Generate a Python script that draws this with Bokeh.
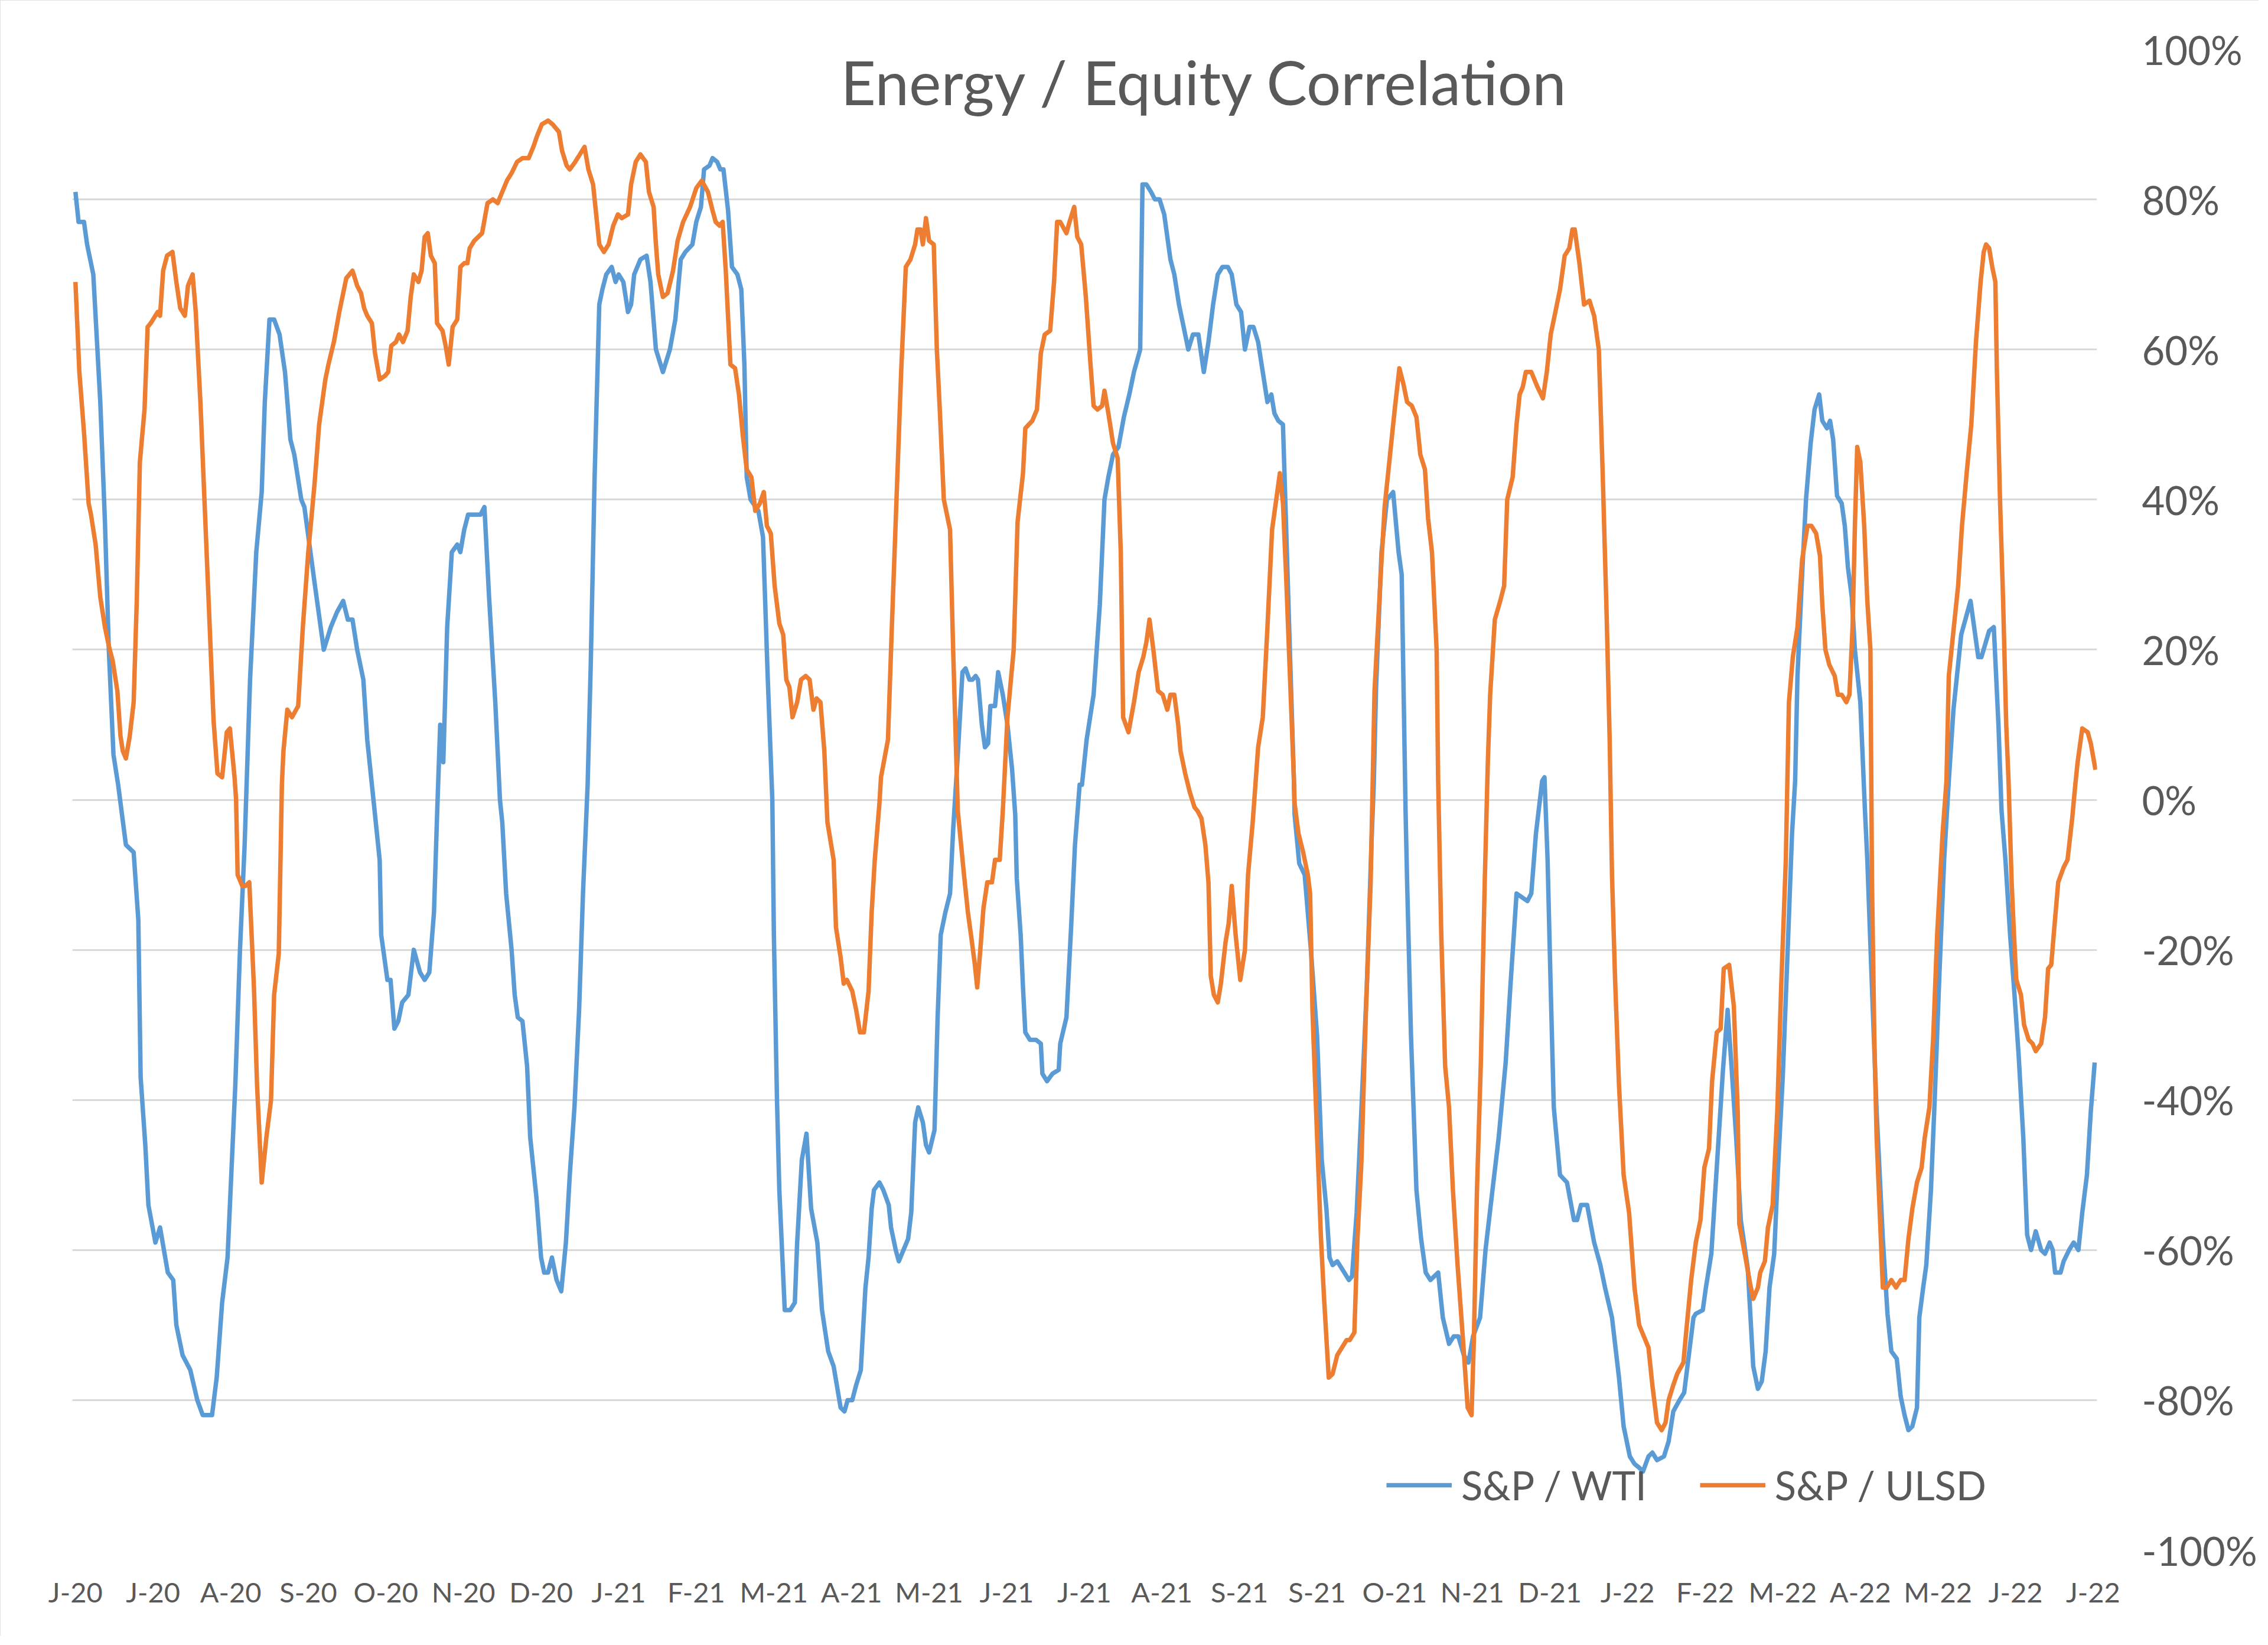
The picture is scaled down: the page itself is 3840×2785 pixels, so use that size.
from bokeh.plotting import figure
from bokeh.models import Range1d, FixedTicker, PrintfTickFormatter, Legend, LegendItem, Label
from bokeh.embed import file_html
from bokeh.resources import INLINE

title_text = "Energy / Equity Correlation"

x_tick_labels = ["J-20", "J-20", "A-20", "S-20", "O-20", "N-20", "D-20", "J-21", "F-21",
                 "M-21", "A-21", "M-21", "J-21", "J-21", "A-21", "S-21", "S-21", "O-21",
                 "N-21", "D-21", "J-22", "F-22", "M-22", "A-22", "M-22", "J-22", "J-22"]

y_ticks = [-100, -80, -60, -40, -20, 0, 20, 40, 60, 80, 100]

# position along the category axis (in label intervals) and correlation in %
wti_x = [0.00, 0.04, 0.11, 0.15, 0.23, 0.32, 0.38, 0.43, 0.49, 0.55, 0.65, 0.75, 0.81, 0.84, 0.90,
         0.94, 1.03, 1.09, 1.19, 1.26, 1.30, 1.38, 1.48, 1.57, 1.64, 1.76, 1.82, 1.89, 1.96, 2.06,
         2.12, 2.18, 2.25, 2.33, 2.40, 2.44, 2.50, 2.56, 2.63, 2.70, 2.77, 2.82, 2.88, 2.91, 2.95,
         3.08, 3.20, 3.29, 3.37, 3.45, 3.51, 3.57, 3.63, 3.71, 3.76, 3.84, 3.92, 3.94, 4.02, 4.06,
         4.11, 4.16, 4.21, 4.29, 4.36, 4.44, 4.50, 4.56, 4.62, 4.66, 4.70, 4.74, 4.79, 4.85, 4.92,
         4.96, 5.01, 5.06, 5.18, 5.22, 5.27, 5.33, 5.41, 5.47, 5.50, 5.55, 5.62, 5.66, 5.70, 5.76,
         5.82, 5.86, 5.94, 6.00, 6.04, 6.09, 6.14, 6.20, 6.26, 6.32, 6.37, 6.43, 6.49, 6.54, 6.60,
         6.64, 6.69, 6.75, 6.79, 6.84, 6.91, 6.96, 7.00, 7.06, 7.12, 7.16, 7.20, 7.28, 7.36, 7.41,
         7.48, 7.57, 7.66, 7.73, 7.80, 7.86, 7.95, 8.00, 8.06, 8.10, 8.17, 8.21, 8.27, 8.31, 8.35,
         8.41, 8.46, 8.53, 8.58, 8.62, 8.65, 8.70, 8.80, 8.86, 8.92, 8.98, 9.00, 9.04, 9.07, 9.14,
         9.21, 9.27, 9.30, 9.36, 9.42, 9.48, 9.56, 9.62, 9.70, 9.77, 9.86, 9.91, 9.95, 10.01, 10.06,
         10.12, 10.18, 10.22, 10.26, 10.29, 10.36, 10.41, 10.48, 10.51, 10.57, 10.61, 10.67, 10.73, 10.77, 10.82,
         10.86, 10.92, 10.96, 11.00, 11.07, 11.11, 11.15, 11.21, 11.27, 11.31, 11.37, 11.43, 11.47, 11.52, 11.56,
         11.60, 11.63, 11.68, 11.72, 11.76, 11.79, 11.85, 11.89, 11.95, 12.01, 12.07, 12.11, 12.13, 12.18, 12.21,
         12.24, 12.30, 12.38, 12.44, 12.46, 12.52, 12.59, 12.67, 12.69, 12.77, 12.83, 12.88, 12.94, 12.97, 13.03,
         13.12, 13.20, 13.26, 13.31, 13.37, 13.44, 13.51, 13.58, 13.64, 13.72, 13.75, 13.80, 13.86, 13.91, 13.97,
         14.03, 14.11, 14.16, 14.22, 14.28, 14.34, 14.40, 14.47, 14.54, 14.60, 14.66, 14.72, 14.78, 14.85, 14.90,
         14.96, 15.02, 15.07, 15.13, 15.18, 15.24, 15.30, 15.36, 15.41, 15.45, 15.50, 15.56, 15.59, 15.64, 15.70,
         15.71, 15.77, 15.84, 15.92, 16.00, 16.06, 16.12, 16.16, 16.20, 16.26, 16.32, 16.41, 16.45, 16.51, 16.57,
         16.64, 16.70, 16.73, 16.76, 16.83, 16.90, 16.98, 17.05, 17.09, 17.14, 17.16, 17.21, 17.28, 17.34, 17.40,
         17.46, 17.51, 17.56, 17.62, 17.70, 17.76, 17.82, 17.89, 17.95, 18.01, 18.10, 18.17, 18.26, 18.34, 18.43,
         18.49, 18.57, 18.64, 18.71, 18.76, 18.82, 18.90, 18.93, 18.97, 19.01, 19.05, 19.13, 19.22, 19.31, 19.35,
         19.40, 19.48, 19.57, 19.65, 19.71, 19.80, 19.89, 19.95, 20.03, 20.09, 20.15, 20.20, 20.27, 20.32, 20.38,
         20.47, 20.53, 20.59, 20.67, 20.73, 20.79, 20.85, 20.88, 20.97, 21.01, 21.08, 21.15, 21.23, 21.29, 21.34,
         21.40, 21.46, 21.55, 21.62, 21.68, 21.73, 21.78, 21.83, 21.89, 21.94, 22.00, 22.06, 22.12, 22.16, 22.19,
         22.25, 22.30, 22.36, 22.41, 22.47, 22.51, 22.57, 22.61, 22.65, 22.70, 22.76, 22.80, 22.84, 22.89, 22.93,
         23.00, 23.06, 23.09, 23.15, 23.21, 23.29, 23.35, 23.40, 23.47, 23.52, 23.57, 23.62, 23.67, 23.73, 23.76,
         23.81, 23.85, 23.91, 23.96, 24.02, 24.08, 24.14, 24.20, 24.30, 24.42, 24.52, 24.56, 24.66, 24.72, 24.78,
         24.82, 24.87, 24.93, 24.98, 25.04, 25.10, 25.15, 25.20, 25.26, 25.33, 25.38, 25.44, 25.48, 25.51, 25.58,
         25.62, 25.69, 25.75, 25.81, 25.86, 25.92, 25.97, 26.02]
wti_y = [81, 77, 77, 74, 70, 53, 37, 20, 6, 2, -6, -7, -16, -37, -46,
         -54, -59, -57, -63, -64, -70, -74, -76, -80, -82, -82, -77, -67, -61, -38,
         -20, -6, 16, 33, 41, 53, 64, 64, 62, 57, 48, 46, 42, 40, 39,
         29, 20, 23, 25, 26.5, 24, 24, 20, 16, 8, 0, -8, -18, -24, -24,
         -30.5, -29.5, -27, -26, -20, -23, -24, -23, -15, -2, 10, 5, 23, 33, 34,
         33, 36, 38, 38, 38, 39, 27, 13, 0, -3, -12.5, -20, -26, -29, -29.5,
         -35.5, -45, -53, -61, -63, -63, -61, -64, -65.5, -59, -50, -41, -28, -12.5, 2,
         18, 43, 66, 68, 70, 71, 69, 70, 69, 65, 66, 70, 72, 72.5, 69,
         60, 57, 60, 64, 72, 73, 74, 77, 79, 84, 84.5, 85.5, 85, 84, 84,
         78.5, 71, 70, 68, 58, 43, 40, 38.5, 35, 16.5, 0, -18, -40, -52, -68,
         -68, -67, -59, -48, -44.5, -54.5, -59, -68, -73.5, -75.5, -81, -81.5, -80, -80, -78,
         -76, -65, -61, -54.5, -52, -51, -52, -54, -57, -60, -61.5, -60, -58.5, -55, -43,
         -41, -43, -46, -47, -44, -29, -18, -15, -12.5, -4, 6, 17, 17.5, 16, 16,
         16.5, 16, 10, 7, 7.5, 12.5, 12.5, 17, 14, 10, 4, -2, -10.5, -18, -25,
         -31, -32, -32, -32.5, -36.5, -37.5, -36.5, -36, -32.5, -29, -17, -6, 2, 2, 8,
         14, 26, 40, 43, 46, 47, 51, 54, 57, 60, 82, 82, 81, 80, 80,
         78, 72, 70, 66, 63, 60, 62, 62, 57, 61, 66, 70, 71, 71, 70,
         66, 65, 60, 63, 63, 61, 57, 53, 54, 51.5, 50.5, 50, 40, 23, 3,
         -2, -8.5, -10, -20, -31.5, -48, -54.5, -61, -62, -61.5, -62.5, -64, -63.5, -55, -41.5,
         -25, -6, 2, 15, 33, 40, 41, 33, 30, -1.5, -11, -31.5, -52, -58.5, -63,
         -64, -63.5, -63, -69, -72.5, -71.5, -71.5, -74, -75, -71.5, -69, -60, -52, -45, -35,
         -25, -12.5, -13, -13.5, -12.5, -4.5, 2.5, 3, -8, -25, -41, -50, -51, -56, -56,
         -54, -54, -59, -62, -65, -69, -77, -83.5, -87.5, -88.5, -89, -89.5, -87.5, -87, -88,
         -87.5, -85.5, -81.5, -80, -79, -74, -69, -68.5, -68, -65, -60.5, -49, -36, -28, -35.5,
         -45, -56, -62.5, -75.5, -78.5, -77.5, -73.5, -65, -60.5, -49, -37, -21, -4.5, 2.5, 16.5,
         30, 40, 47.5, 52, 54, 50.5, 49.5, 50.5, 48, 40.5, 39.5, 36.5, 31, 27, 20,
         13, -1.5, -8, -25, -41.5, -58.5, -68.5, -73.5, -74.5, -79.5, -82, -84, -83.5, -81, -69,
         -65, -62, -52, -39.5, -23, -8, 2.5, 12, 22, 26.5, 19, 19, 22.5, 23, 10,
         -1.5, -8, -18, -25, -34, -45, -58, -60, -57.5, -60, -60.5, -59, -60, -63, -63,
         -61.5, -60, -59, -60, -55, -50, -41.5, -35]

ulsd_x = [0.00, 0.05, 0.11, 0.17, 0.20, 0.26, 0.32, 0.38, 0.43, 0.48, 0.54, 0.58, 0.61, 0.65, 0.70,
          0.75, 0.79, 0.83, 0.89, 0.93, 0.97, 1.03, 1.06, 1.09, 1.13, 1.18, 1.25, 1.30, 1.35, 1.41,
          1.45, 1.51, 1.55, 1.61, 1.67, 1.73, 1.78, 1.83, 1.89, 1.95, 1.99, 2.05, 2.07, 2.09, 2.15,
          2.19, 2.24, 2.30, 2.34, 2.40, 2.46, 2.52, 2.56, 2.62, 2.66, 2.68, 2.73, 2.79, 2.87, 2.93,
          3.00, 3.08, 3.14, 3.22, 3.26, 3.33, 3.40, 3.49, 3.57, 3.63, 3.68, 3.72, 3.76, 3.82, 3.86,
          3.92, 3.99, 4.03, 4.07, 4.13, 4.17, 4.22, 4.28, 4.32, 4.36, 4.42, 4.46, 4.50, 4.54, 4.58,
          4.63, 4.66, 4.73, 4.77, 4.81, 4.86, 4.92, 4.96, 5.01, 5.05, 5.08, 5.14, 5.24, 5.31, 5.38,
          5.44, 5.50, 5.56, 5.62, 5.69, 5.76, 5.84, 5.90, 5.95, 6.01, 6.09, 6.15, 6.23, 6.27, 6.33,
          6.37, 6.44, 6.50, 6.56, 6.61, 6.67, 6.72, 6.75, 6.81, 6.87, 6.93, 6.99, 7.04, 7.12, 7.16,
          7.22, 7.28, 7.35, 7.39, 7.45, 7.48, 7.51, 7.57, 7.63, 7.70, 7.76, 7.83, 7.92, 8.00, 8.07,
          8.15, 8.21, 8.25, 8.30, 8.34, 8.38, 8.44, 8.50, 8.55, 8.60, 8.65, 8.71, 8.76, 8.82, 8.87,
          8.91, 8.96, 9.01, 9.07, 9.12, 9.16, 9.20, 9.24, 9.30, 9.35, 9.41, 9.46, 9.51, 9.55, 9.60,
          9.65, 9.69, 9.77, 9.80, 9.86, 9.90, 9.94, 10.01, 10.06, 10.11, 10.16, 10.22, 10.26, 10.30, 10.36,
          10.38, 10.47, 10.52, 10.58, 10.64, 10.70, 10.76, 10.82, 10.85, 10.89, 10.92, 10.96, 11.00, 11.06, 11.10,
          11.14, 11.19, 11.27, 11.31, 11.37, 11.45, 11.50, 11.54, 11.59, 11.62, 11.66, 11.70, 11.75, 11.81, 11.85,
          11.91, 11.95, 12.01, 12.09, 12.14, 12.21, 12.24, 12.33, 12.39, 12.44, 12.49, 12.56, 12.61, 12.65, 12.69,
          12.77, 12.81, 12.87, 12.91, 12.96, 13.02, 13.08, 13.12, 13.17, 13.23, 13.26, 13.31, 13.37, 13.43, 13.47,
          13.50, 13.57, 13.64, 13.70, 13.76, 13.80, 13.84, 13.89, 13.95, 14.01, 14.07, 14.11, 14.16, 14.21, 14.24,
          14.30, 14.36, 14.42, 14.46, 14.51, 14.56, 14.60, 14.63, 14.67, 14.72, 14.76, 14.82, 14.86, 14.90, 14.95,
          15.01, 15.07, 15.11, 15.17, 15.24, 15.30, 15.36, 15.42, 15.48, 15.52, 15.56, 15.60, 15.65, 15.70, 15.71,
          15.76, 15.82, 15.88, 15.91, 15.94, 16.00, 16.05, 16.09, 16.15, 16.20, 16.26, 16.32, 16.38, 16.42, 16.48,
          16.52, 16.57, 16.63, 16.69, 16.74, 16.82, 16.87, 16.94, 17.00, 17.06, 17.11, 17.16, 17.22, 17.28, 17.33,
          17.39, 17.43, 17.48, 17.54, 17.56, 17.60, 17.65, 17.70, 17.75, 17.81, 17.88, 17.94, 17.99, 18.02, 18.06,
          18.11, 18.16, 18.20, 18.23, 18.29, 18.36, 18.41, 18.45, 18.52, 18.57, 18.61, 18.65, 18.69, 18.76, 18.84,
          18.91, 18.96, 19.01, 19.07, 19.13, 19.19, 19.25, 19.29, 19.32, 19.38, 19.44, 19.51, 19.57, 19.63, 19.68,
          19.73, 19.77, 19.80, 19.84, 19.89, 19.95, 20.02, 20.09, 20.15, 20.21, 20.27, 20.32, 20.38, 20.44, 20.49,
          20.53, 20.59, 20.64, 20.72, 20.76, 20.82, 20.88, 20.94, 20.99, 21.05, 21.09, 21.15, 21.20, 21.24, 21.31,
          21.37, 21.42, 21.44, 21.52, 21.58, 21.62, 21.68, 21.71, 21.77, 21.81, 21.87, 21.93, 21.98, 22.04, 22.08,
          22.13, 22.19, 22.25, 22.32, 22.37, 22.43, 22.48, 22.51, 22.55, 22.60, 22.67, 22.71, 22.76, 22.82, 22.86,
          22.90, 22.93, 22.96, 23.00, 23.05, 23.09, 23.13, 23.15, 23.18, 23.21, 23.25, 23.29, 23.34, 23.40, 23.46,
          23.52, 23.57, 23.62, 23.67, 23.73, 23.79, 23.83, 23.89, 23.94, 23.99, 24.06, 24.11, 24.14, 24.20, 24.26,
          24.31, 24.37, 24.43, 24.49, 24.55, 24.59, 24.62, 24.66, 24.70, 24.74, 24.76, 24.80, 24.84, 24.88, 24.91,
          24.95, 24.98, 25.01, 25.07, 25.11, 25.17, 25.22, 25.26, 25.33, 25.38, 25.42, 25.46, 25.50, 25.55, 25.62,
          25.67, 25.73, 25.77, 25.80, 25.86, 25.93, 25.97, 26.03]
ulsd_y = [69, 57, 49, 39.5, 38, 34, 27, 23, 20.5, 18.5, 14.5, 8.5, 6.5, 5.5, 8.5,
          13, 26.5, 45, 52, 63, 63.5, 64.5, 65, 64.5, 70.5, 72.5, 73, 69, 65.5, 64.5,
          68.5, 70, 65, 53, 38, 23, 10.5, 3.5, 3, 9, 9.5, 3, 0, -10, -11.5,
          -11.5, -11, -25, -38, -51, -45, -40, -26, -20.5, 2, 6.5, 12, 11, 12.5, 23,
          33, 42, 50, 56, 58, 61, 65, 69.5, 70.5, 68.5, 67.5, 65.5, 64.5, 63.5, 59.5,
          56, 56.5, 57, 60.5, 61, 62, 61, 62.5, 67, 70, 69, 70.5, 75, 75.5, 72.5,
          71.5, 63.5, 62.5, 60.5, 58, 63, 64, 71, 71.5, 71.5, 73.5, 74.5, 75.5, 79.5, 80,
          79.5, 81, 82.5, 83.5, 85, 85.5, 85.5, 87, 88.5, 90, 90.5, 90, 89, 86.5, 84.5,
          84, 85, 86, 87, 84, 82, 77, 74, 73, 74, 76.5, 78, 77.5, 78, 82,
          85, 86, 85, 81, 79, 74, 70, 67, 67.5, 70.5, 74.5, 77, 79, 81.5, 82.5,
          81, 78.5, 77, 76.5, 77, 70.5, 58, 57.5, 54, 48.5, 44, 43, 38.5, 39.5, 41,
          36.5, 35.5, 28.5, 23.5, 22, 16, 15, 11, 13, 16, 16.5, 16, 12, 13.5, 13,
          6.5, -3, -8, -17, -21, -24.5, -24, -25.5, -28, -31, -31, -25.5, -15, -8, -0.5,
          3, 8, 23, 40, 57, 71, 72, 74, 76, 76, 74, 77.5, 74.5, 74, 60,
          51.5, 40, 36, 20, -1.5, -10, -15, -18, -22, -25, -20, -14.5, -11, -11, -8,
          -8, -1.5, 11, 20, 37, 43.5, 49.5, 50.5, 52, 59.5, 62, 62.5, 69, 77, 77,
          75.5, 77, 79, 75, 74, 67, 58, 52.5, 52, 52.5, 54.5, 51.5, 47.5, 45.5, 33,
          11, 9, 13, 17, 19, 21, 24, 20, 14.5, 14, 12, 14, 14, 10, 6.5,
          3.5, 1, -1, -1.5, -2.5, -6, -11, -23.5, -26, -27, -24.5, -19, -16.5, -11.5, -18,
          -24, -20, -10, -3, 7, 11, 23, 36, 40.5, 43.5, 39.5, 30, 16.5, 3, -0.5,
          -4.5, -7, -10, -12.5, -28, -45, -58.5, -66.5, -77, -76.5, -74, -73, -72, -72, -71,
          -58.5, -48.5, -28, -11, 14.5, 30, 39, 46, 52, 57.5, 55.5, 53, 52.5, 51, 46,
          44, 37.5, 33, 20, 2.5, -18, -35.5, -41, -52, -62, -72, -81, -82, -72, -52,
          -35, -11, 5, 14, 24, 26.5, 28.5, 40, 43, 50, 54, 55, 57, 57, 55,
          53.5, 57, 62, 65, 68, 72.5, 73.5, 76, 76, 71.5, 66, 66.5, 64.5, 60, 43.5,
          25, 8, -10, -24, -38, -50, -55, -65, -70, -71.5, -73, -78, -83, -84, -83,
          -80, -78, -76.5, -75, -70.5, -64, -59, -56, -49, -46.5, -37.5, -31, -30.5, -22.5, -22,
          -27.5, -41.5, -56.5, -61, -64.5, -66.5, -65, -63, -61.5, -57, -54, -41.5, -25, -8, 13,
          19, 23, 32, 36.5, 36.5, 35.5, 32.5, 26, 20, 18, 16.5, 14, 14, 13, 14,
          23, 36.5, 47, 45, 36.5, 26.5, 20, -11, -31.5, -45, -55, -65, -65, -64, -65,
          -64, -64, -58.5, -54.5, -51, -49, -45, -41, -31.5, -18, -4.5, 2.5, 16.5, 22.5, 28.5,
          36.5, 43.5, 50, 61, 69, 73, 74, 73.5, 71, 69, 57, 40, 26.5, 10, 2.5,
          -11, -18, -24, -26, -30, -32, -32.5, -33.5, -32.5, -29, -22.5, -22, -17, -11, -9,
          -8, -2.5, 2, 5, 9.5, 9, 7.5, 4]

FONT = "Lato"
TEXT = "#595959"

p = figure(width=3824, height=2769, output_backend="svg", toolbar_location=None,
           x_range=Range1d(-0.04, 26.05), y_range=Range1d(-100, 100),
           y_axis_location="right",
           min_border_left=122, min_border_right=274, min_border_top=83, min_border_bottom=145,
           styles={"outline": "4px solid #D9D9D9", "outline-offset": "-4px"})
p.outline_line_color = None
p.background_fill_color = "white"
p.border_fill_color = "white"

r1 = p.line(wti_x, wti_y, line_color="#5B9BD5", line_width=7.5, line_join="round")
r2 = p.line(ulsd_x, ulsd_y, line_color="#ED7D31", line_width=7.5, line_join="round")

p.xgrid.visible = False
p.ygrid.grid_line_color = "#D9D9D9"
p.ygrid.grid_line_width = 3

p.yaxis.ticker = FixedTicker(ticks=y_ticks)
p.yaxis.formatter = PrintfTickFormatter(format="%d%%")
p.yaxis.axis_line_color = None
p.yaxis.major_tick_line_color = None
p.yaxis.minor_tick_line_color = None
p.yaxis.major_tick_out = 0
p.yaxis.major_tick_in = 0
p.yaxis.major_label_standoff = 76
p.yaxis.major_label_text_font = FONT
p.yaxis.major_label_text_font_size = "67px"
p.yaxis.major_label_text_color = TEXT

p.xaxis.ticker = FixedTicker(ticks=list(range(len(x_tick_labels))))
p.xaxis.major_label_overrides = {i: s for i, s in enumerate(x_tick_labels)}
p.xaxis.axis_line_color = None
p.xaxis.major_tick_line_color = None
p.xaxis.minor_tick_line_color = None
p.xaxis.major_tick_out = 0
p.xaxis.major_tick_in = 0
p.xaxis.major_label_standoff = 42
p.xaxis.major_label_text_font = FONT
p.xaxis.major_label_text_font_size = "47px"
p.xaxis.major_label_text_color = TEXT

title = Label(x=14.555, y=95.7, text=title_text, text_font=FONT, text_font_size="103px",
              text_color=TEXT, text_align="center", text_baseline="alphabetic")
p.add_layout(title)

legend = Legend(items=[LegendItem(label="S&P / WTI", renderers=[r1]),
                       LegendItem(label="S&P / ULSD", renderers=[r2])],
                orientation="horizontal", location=(2225, 70),
                glyph_width=111, glyph_height=40, label_standoff=16, spacing=90,
                padding=0, margin=0, border_line_color=None, background_fill_alpha=0,
                label_text_font=FONT, label_text_font_size="67px", label_text_color=TEXT)
p.add_layout(legend)

open("out.html", "w").write(file_html(p, INLINE))
